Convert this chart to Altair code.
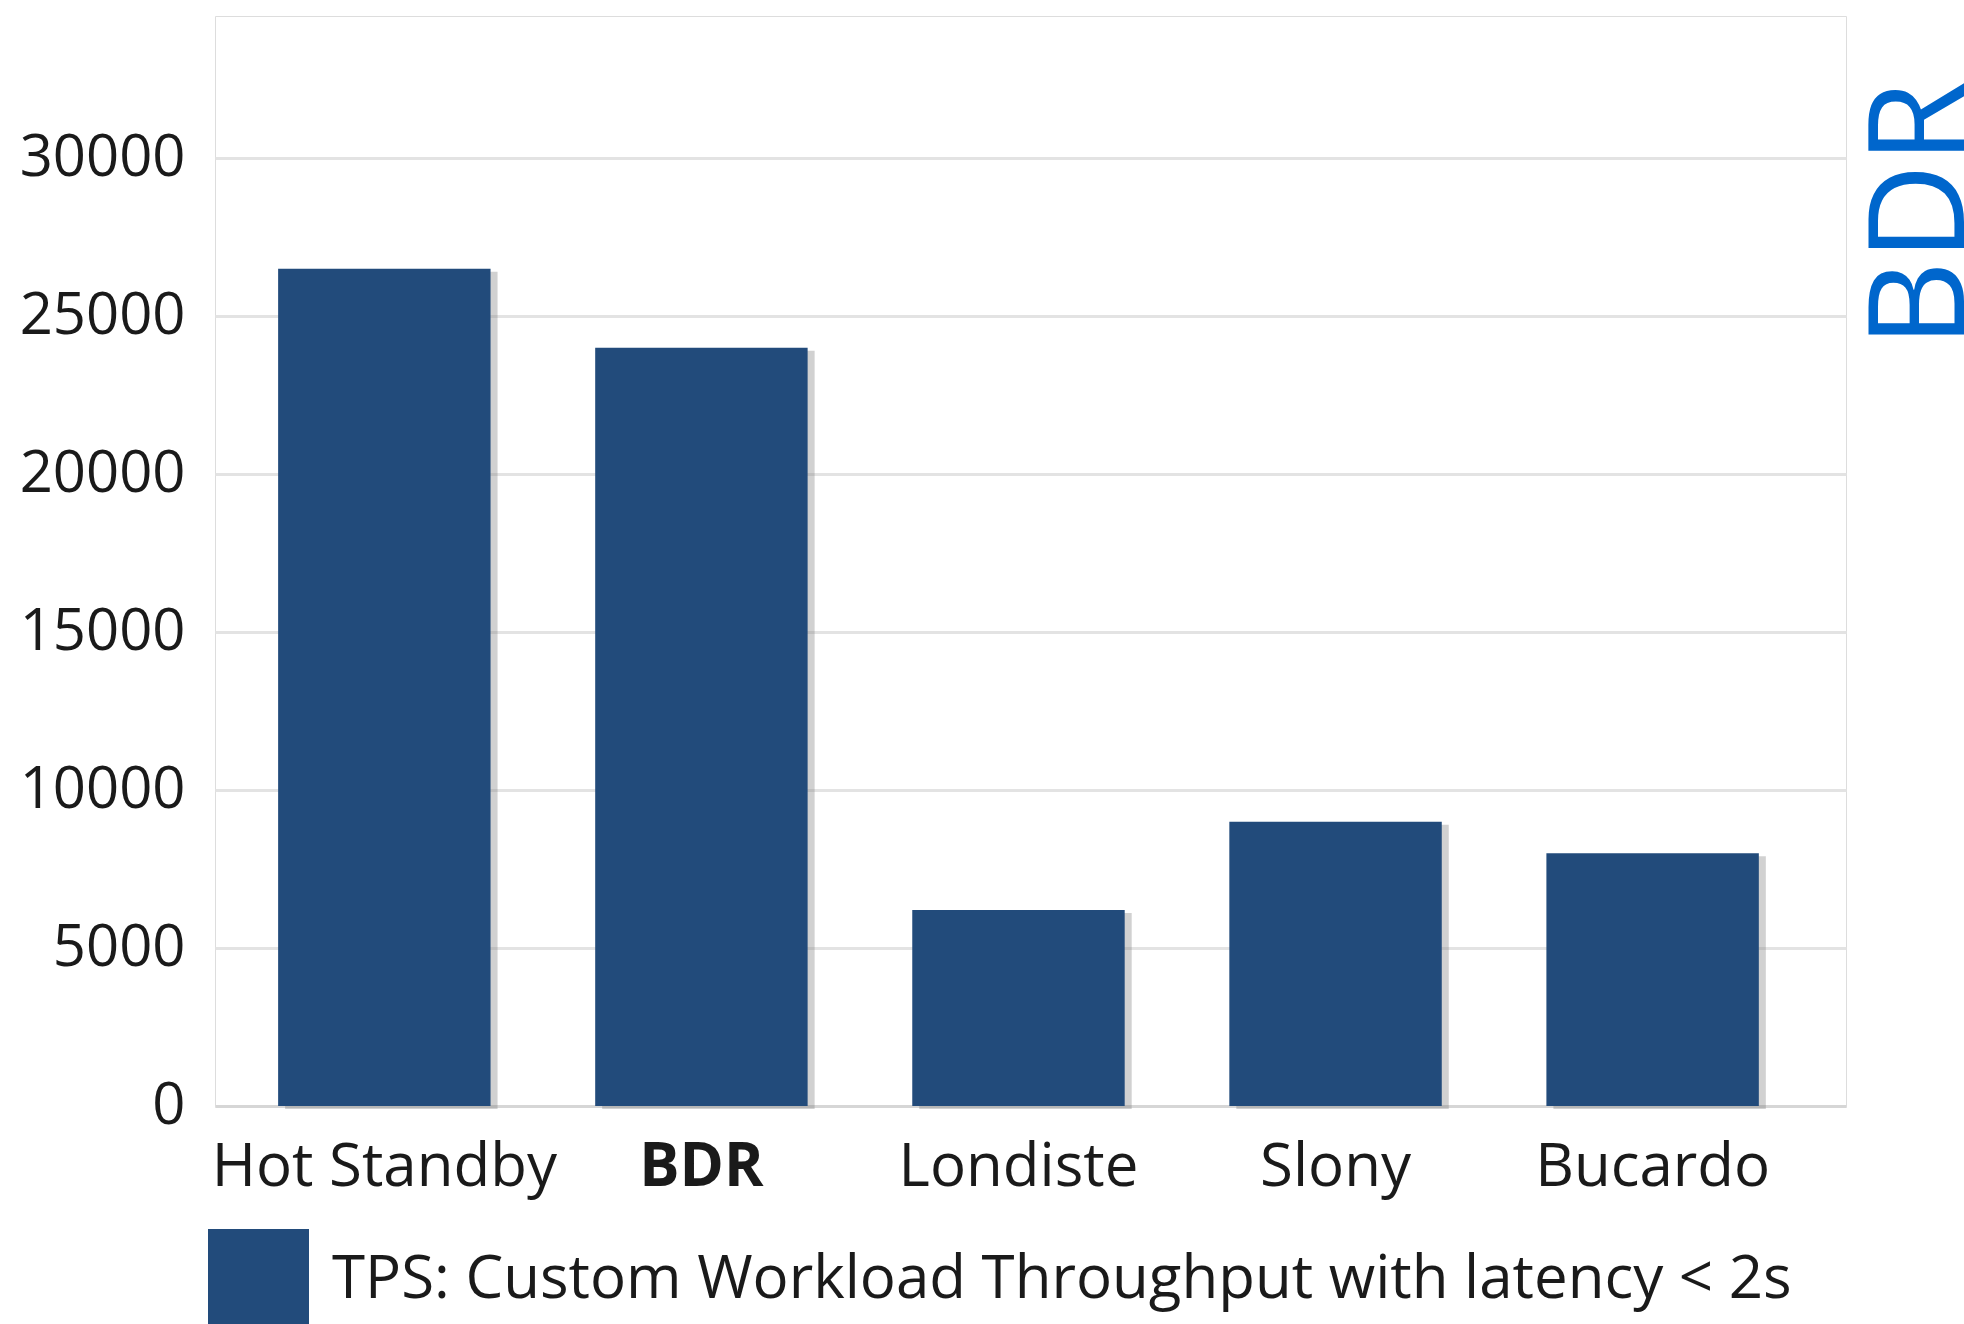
import altair as alt
import pandas as pd

# Replication throughput per tool (transactions per second)
systems = ["Hot Standby", "BDR", "Londiste", "Slony", "Bucardo"]
tps = [26500, 24000, 6200, 9000, 8000]
series_name = "TPS: Custom Workload Throughput with latency < 2s"

y_ticks = [0, 5000, 10000, 15000, 20000, 25000, 30000]

BAR_COLOR = "#224B7B"
FONT = "Open Sans"

df = pd.DataFrame({"system": systems, "tps": tps, "series": series_name})

x_enc = alt.X(
    "system:N",
    sort=systems,
    scale=alt.Scale(paddingInner=0.33, paddingOuter=0.237, align=0.42),
    axis=alt.Axis(
        title=None,
        labelAngle=0,
        labelFont=FONT,
        labelFontSize=60,
        labelColor="#1a1a1a",
        labelFontWeight={"condition": {"test": "datum.value == 'BDR'", "value": "bold"}, "value": "normal"},
        labelPadding=32,
        labelLimit=1000,
        ticks=False,
        domain=True,
        domainColor="#d6d6d6",
        domainWidth=3,
        grid=False,
    ),
)

y_enc = alt.Y(
    "tps:Q",
    scale=alt.Scale(domain=[0, 34500], nice=False),
    axis=alt.Axis(
        title=None,
        values=y_ticks,
        format="d",
        labelFont=FONT,
        labelFontSize=58,
        labelColor="#1a1a1a",
        labelPadding=30,
        ticks=False,
        domain=False,
        grid=True,
        gridColor="#e3e3e3",
        gridWidth=3,
    ),
)

# soft drop shadow behind each bar
shadow = alt.Chart(df).mark_bar(
    color="#7a7a7a", opacity=0.35, xOffset=7, yOffset=3
).encode(x=x_enc, y=y_enc)

bars = alt.Chart(df).mark_bar().encode(
    x=x_enc,
    y=y_enc,
    color=alt.Color(
        "series:N",
        scale=alt.Scale(domain=[series_name], range=[BAR_COLOR]),
        legend=alt.Legend(
            title=None,
            orient="none",
            legendX=-7,
            legendY=1213,
            symbolType="square",
            symbolSize=10201,
            symbolStrokeWidth=0,
            symbolOpacity=1,
            labelFont=FONT,
            labelFontSize=60,
            labelColor="#1a1a1a",
            labelOffset=23,
            labelLimit=2000,
        ),
    ),
)

chart = (
    alt.layer(shadow, bars)
    .properties(
        width=1631,
        height=1090,
        autosize=alt.AutoSizeParams(type="none"),
        padding={"left": 215, "top": 16, "right": 118, "bottom": 218},
        title=alt.TitleParams(
            text="BDR",
            orient="right",
            angle=270,
            anchor="start",
            align="right",
            baseline="top",
            offset=-122,
            dx=-65,
            font=FONT,
            fontSize=134,
            fontWeight="normal",
            color="#0066CC",
        ),
    )
    .configure_view(stroke="#d6d6d6", strokeWidth=3)
    .configure(background="white")
)

chart.save("out.html", embed_options={"renderer": "svg", "actions": False})
